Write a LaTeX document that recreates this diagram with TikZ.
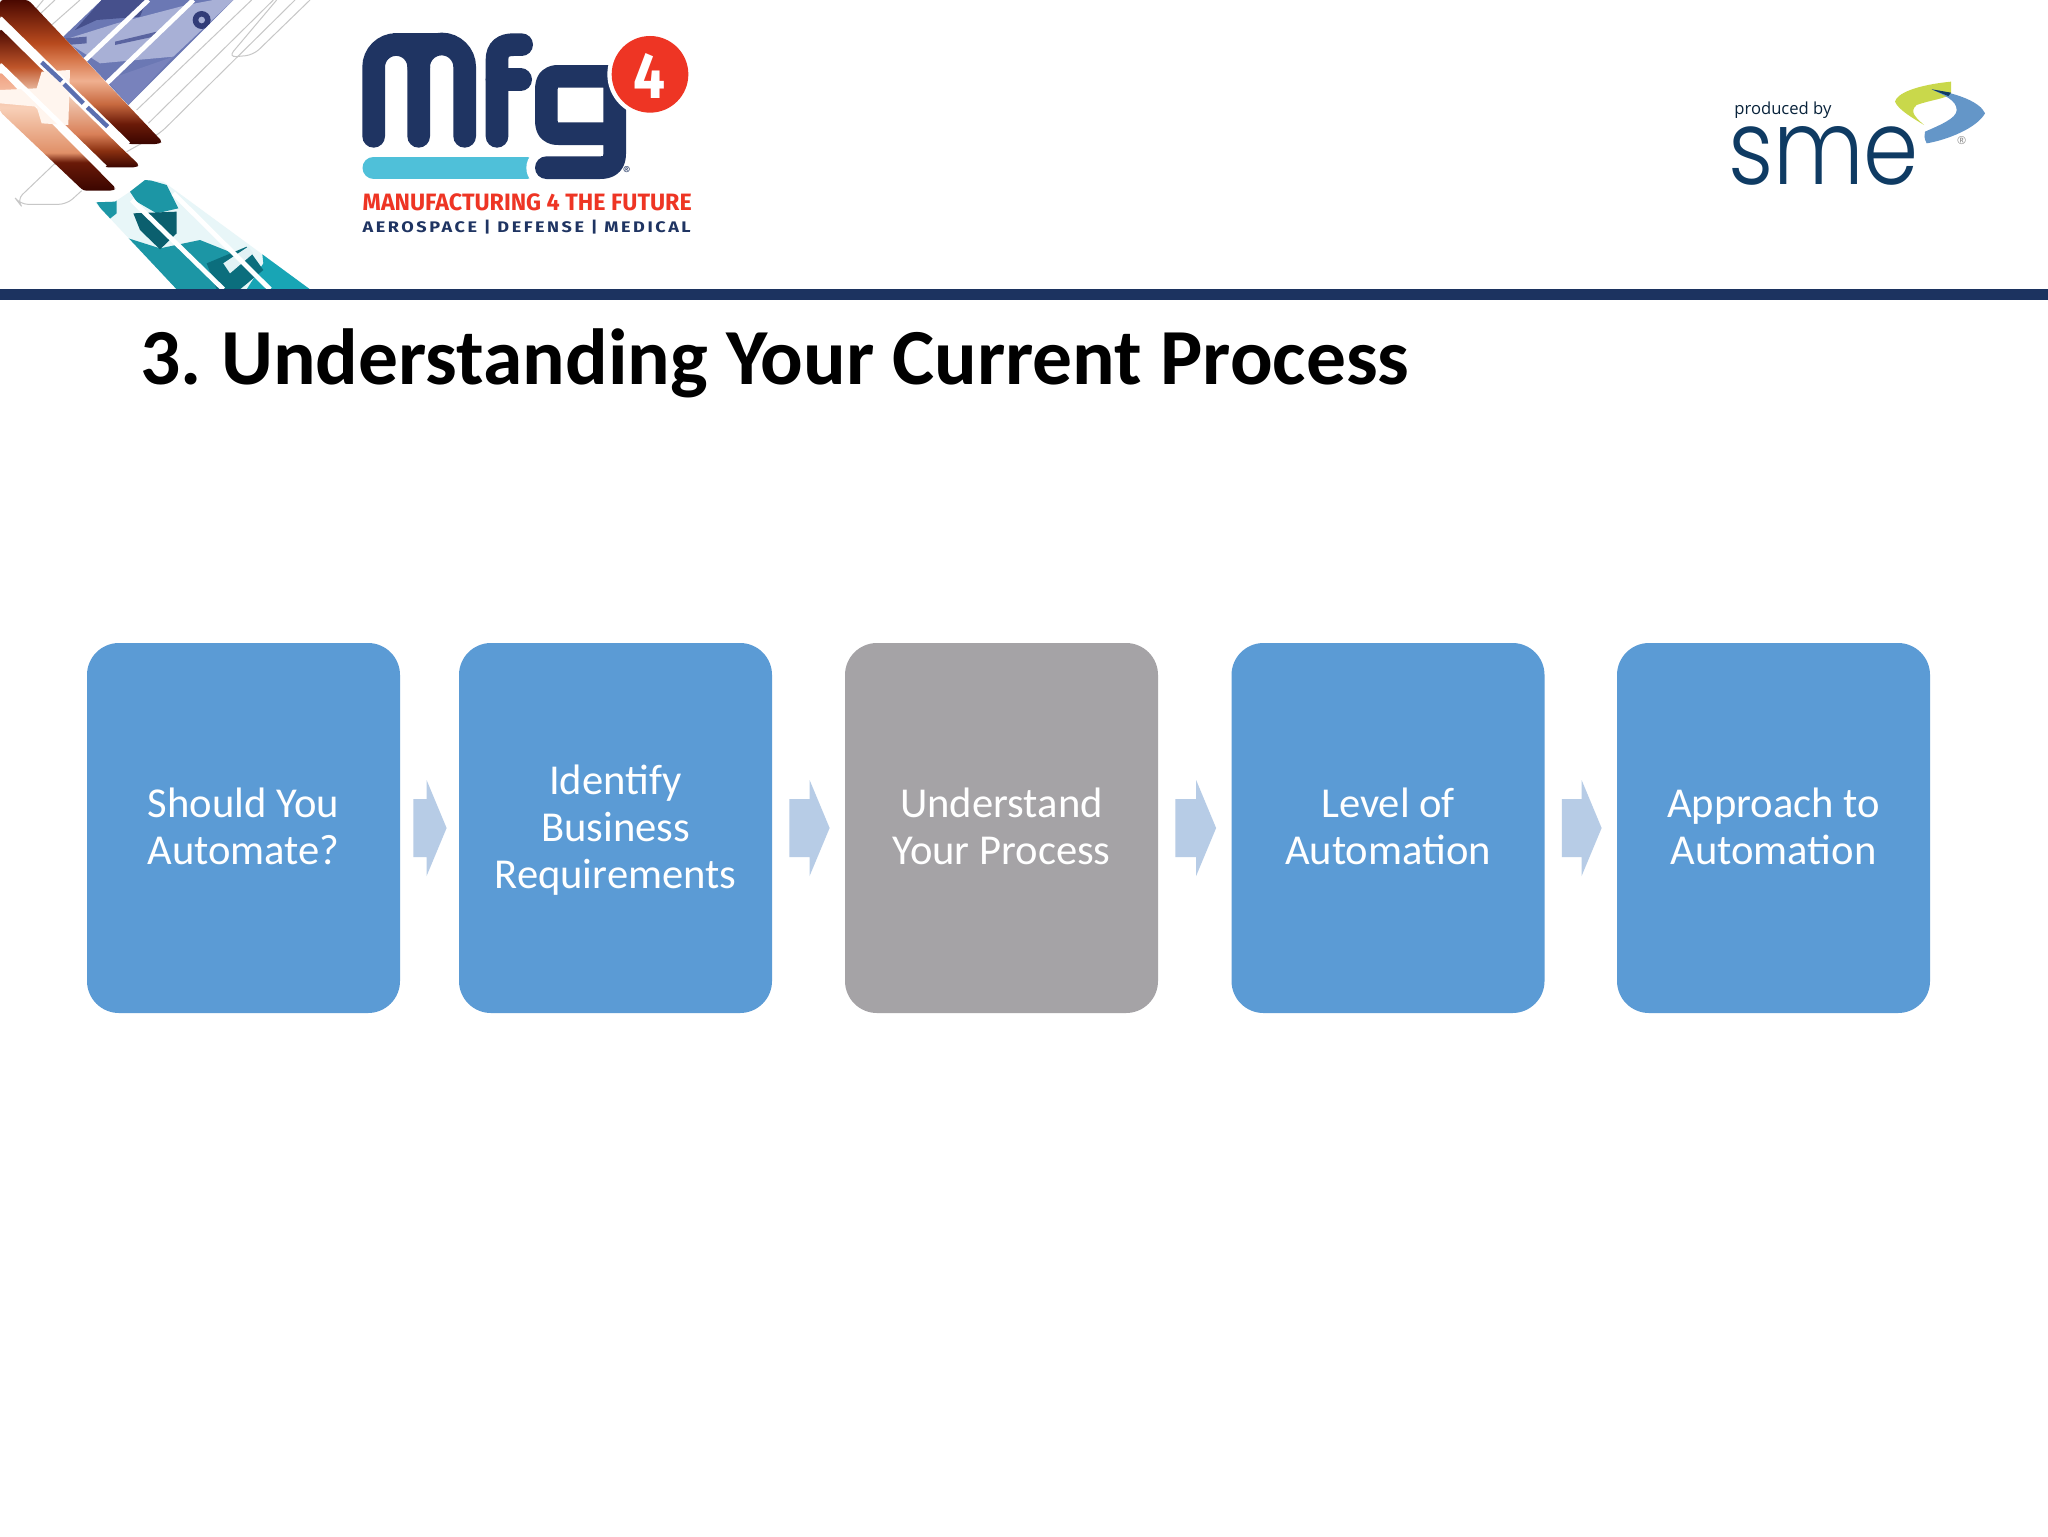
\documentclass[tikz,border=0pt]{standalone}
\usepackage{fontspec}
\usetikzlibrary{calc}
\setmainfont{Carlito}
\newfontfamily\logofont{Fira Sans}
\newfontfamily\logospaced[LetterSpace=14]{Fira Sans}
\newfontfamily\smefont{Poppins Light}
\newfontfamily\prodfont{Open Sans}
\definecolor{navy}{HTML}{1F3462}
\definecolor{rulenavy}{HTML}{1C3360}
\definecolor{logocyan}{HTML}{4FC0D9}
\definecolor{logored}{HTML}{EE3524}
\definecolor{boxblue}{HTML}{5B9BD5}
\definecolor{boxgrey}{HTML}{A5A3A6}
\definecolor{arrowblue}{HTML}{B7CCE6}
\definecolor{smenavy}{HTML}{0F3B63}
\definecolor{smelime}{HTML}{C9D84B}
\definecolor{smeblue}{HTML}{6496C8}
\definecolor{cuA}{RGB}{58,5,0}
\definecolor{cuB}{RGB}{106,26,8}
\definecolor{cuC}{RGB}{200,106,64}
\definecolor{cuD}{RGB}{240,176,144}
\definecolor{cuE}{RGB}{216,122,78}
\definecolor{cuF}{RGB}{184,74,30}
\definecolor{cuG}{RGB}{74,8,0}
\definecolor{cuH}{RGB}{138,48,16}
\definecolor{cuI}{RGB}{217,128,88}
\definecolor{cuJ}{RGB}{243,208,187}
\definecolor{cuK}{RGB}{192,86,42}
\definecolor{cuL}{RGB}{224,144,104}
\definecolor{cuM}{RGB}{248,208,184}
\definecolor{cuN}{RGB}{240,160,128}
\definecolor{planeA}{RGB}{107,120,180}
\definecolor{planeB}{RGB}{168,176,214}
\definecolor{planeC}{RGB}{70,80,140}
\definecolor{planeD}{RGB}{50,60,120}
\definecolor{planeE}{RGB}{90,100,160}
\definecolor{planeF}{RGB}{120,130,188}
\definecolor{starwhite}{RGB}{255,245,238}
\definecolor{dashblue}{RGB}{90,111,176}
\definecolor{tealA}{RGB}{232,246,248}
\definecolor{tealB}{RGB}{28,150,165}
\definecolor{tealC}{RGB}{11,95,110}
\definecolor{tealD}{RGB}{24,165,181}
\definecolor{tealE}{RGB}{11,110,125}
\definecolor{tealF}{RGB}{225,242,245}
\pgfdeclareverticalshading{stripA}{100bp}{color(0bp)=(cuA);
 color(25bp)=(cuA); color(32bp)=(cuB); color(39bp)=(cuC); color(47bp)=(cuD);
 color(54bp)=(cuE); color(60bp)=(cuF); color(75bp)=(cuG); color(100bp)=(cuG)}
\pgfdeclareverticalshading{stripB}{100bp}{color(0bp)=(cuA);
 color(25bp)=(cuA); color(31bp)=(cuH); color(37bp)=(cuI); color(51bp)=(cuJ);
 color(61bp)=(cuK); color(75bp)=(cuG); color(100bp)=(cuG)}
\pgfdeclareverticalshading{stripC}{100bp}{color(0bp)=(cuA);
 color(25bp)=(cuA); color(37bp)=(cuB); color(41bp)=(cuL); color(60bp)=(cuM);
 color(75bp)=(cuN); color(100bp)=(cuN)}
\newcommand{\lstrut}{\rule[-5.25pt]{0pt}{23.5pt}}
\tikzset{
 procbox/.style={rounded corners=16pt,minimum width=156.5pt,minimum height=185pt,inner sep=0pt,
   text=white,align=center,font=\fontsize{21.3}{23.5}\selectfont},
 zoomscope/.style={x=0.16667pt,y=-0.16667pt},
 thin outline/.style={draw=black!22,line width=0.5pt,rounded corners=4pt},
 logostroke/.style={draw=navy,line width=11.33pt,line cap=round},
 whitebar/.style={draw=white,line width=2.4pt},
 dashbar/.style={draw=dashblue,line width=2.2pt},
}
\newcommand{\blockarrow}[4]{%
 \fill[arrowblue] ($(#1.east)+(#3,-29)$) -- ($(#2.west)+(-#4-20,-29)$) -- ($(#2.west)+(-#4-20,-48)$)
   -- ($(#2.west)+(-#4,0)$) -- ($(#2.west)+(-#4-20,48)$) -- ($(#2.west)+(-#4-20,29)$)
   -- ($(#1.east)+(#3,29)$) -- cycle;}
\begin{document}
\begin{tikzpicture}[x=0.5pt,y=-0.5pt]
\useasboundingbox (0,0) rectangle (2048,1536);
\fill[white] (0,0) rectangle (2048,1536);
% header artwork
\begin{scope}[zoomscope]
 \clip (0,0) rectangle (960,868);
 \draw[thin outline] (930,0) -- (760,165) -- (685,172) -- (830,0);
 \draw[thin outline] (755,0) -- (410,330);
 \draw[thin outline] (820,0) -- (445,370);
 \draw[thin outline] (885,0) -- (480,400) -- (380,455);
 \draw[thin outline] (165,490) -- (50,600) -- (60,613) -- (200,613) -- (245,572);
 \draw[thin outline] (130,0) -- (105,30);
 \draw[thin outline] (165,0) -- (120,42);
 \draw[thin outline] (240,0) -- (155,75);
 % aircraft strip
 \fill[planeA] (305,0) -- (700,0) -- (385,315) -- (190,110) -- cycle;
 \begin{scope}
  \clip (305,0) -- (700,0) -- (385,315) -- (190,110) -- cycle;
  \fill[planeB] (190,120) -- (350,70) -- (560,15) -- (640,0) -- (700,0) -- (520,170) -- (300,190) -- cycle;
  \fill[planeC] (305,0) -- (440,0) -- (420,50) -- (290,60) -- (225,90) -- cycle;
  \fill[planeD] (605,60) circle[radius=27];
  \fill[planeB] (605,60) circle[radius=10];
  \fill[planeE] (345,125) -- (470,95) -- (470,108) -- (345,135) -- cycle;
  \fill[planeE] (195,115) -- (260,110) -- (260,130) -- (200,135) -- cycle;
  \fill[planeF] (320,240) -- (520,170) -- (385,315) -- cycle;
 \end{scope}
 \draw[whitebar] (445,0) -- (250,185);
 \draw[whitebar] (580,0) -- (320,250);
 % copper strips
 \shade[shading=stripA,rounded corners=1.5pt] (0,0) -- (85,0) -- (487,425) -- (475,432) -- (385,432) -- (0,55) -- cycle;
 \shade[shading=stripB,rounded corners=1.5pt] (0,85) -- (355,435) -- (418,495) -- (408,502) -- (315,502) -- (0,195) -- cycle;
 \shade[shading=stripC,rounded corners=1.5pt] (0,215) -- (348,565) -- (338,572) -- (250,572) -- (0,335) -- cycle;
 \fill[starwhite] (125,215) -- (210,210) -- (205,375) -- (125,370) -- (110,320) -- (0,310) -- (0,270) -- (110,265) -- cycle;
 \draw[whitebar] (0,55) -- (385,432);
 \draw[whitebar] (0,195) -- (315,502);
 \draw[dashbar] (125,187) -- (185,243);
 \draw[dashbar] (192,252) -- (250,310);
 \draw[dashbar] (262,322) -- (323,380);
 % teal strip
 \begin{scope}
  \clip (285,607) -- (345,605) -- (390,575) -- (435,540) -- (490,545) -- (930,868) -- (530,868) -- cycle;
  \fill[tealA] (280,530) rectangle (940,868);
  \fill[tealB] (285,600) -- (350,600) -- (350,640) -- (325,660) -- cycle;
  \fill[tealB] (390,575) -- (430,535) -- (500,555) -- (535,625) -- (470,640) -- (410,605) -- cycle;
  \fill[tealB] (385,715) -- (480,745) -- (600,720) -- (700,760) -- (680,868) -- (520,868) -- cycle;
  \fill[tealC] (400,640) -- (530,635) -- (530,700) -- (480,748) -- (420,690) -- cycle;
  \fill[tealD] (780,700) -- (940,868) -- (740,868) -- (790,790) -- cycle;
  \fill[tealE] (620,790) -- (740,740) -- (790,810) -- (720,868) -- (650,868) -- cycle;
  \fill[tealF] (670,790) -- (745,740) -- (760,760) -- (690,820) -- cycle;
 \end{scope}
 \draw[whitebar] (395,600) -- (670,868);
 \draw[whitebar] (520,580) -- (810,868);
\end{scope}
\fill[rulenavy] (0,289) rectangle (2048,300);
% mfg logo
\begin{scope}[shift={(350,25)},zoomscope]
 \draw[logocyan,line width=11.17pt,line cap=round] (71,428) -- (530,428);
 \draw[white,line width=20pt,line cap=round] (589,428) -- (600,428);
 \draw[logostroke] (71,334) -- (71,126) arc[start angle=180,end angle=360,radius=67.5] -- (206,334);
 \draw[logostroke] (206,126) arc[start angle=180,end angle=360,radius=69] -- (344,334);
 \fill[navy] (130,25) rectangle (290,80);
 \draw[logostroke] (441,334) -- (441,105) .. controls (441,72) and (460,59) .. (490,59) -- (515,59);
 \draw[logostroke] (441,164) -- (512,164);
 \draw[logostroke,line join=round] (589,428) -- (750,428) .. controls (780,428) and (794,415) .. (794,385) -- (794,154) -- (625,154) .. controls (600,154) and (589,165) .. (589,195) -- (589,285) .. controls (589,315) and (600,326) .. (625,326) -- (794,326);
 \fill[white] (900,148) circle[radius=128];
 \fill[logored] (900,148) circle[radius=115];
 \node[inner sep=0pt,text=white] (four) at (897,152) {\resizebox{16pt}{22.5pt}{\logofont\bfseries 4}};
 \node[inner sep=0pt,text=navy] (regmark) at (830,437) {\fontsize{6}{6}\logofont ®};
 \node[inner sep=0pt,anchor=base west,text=logored] (tagline) at (37,555) {\resizebox{164.5pt}{8.4pt}{\logofont\bfseries MANUFACTURING 4 THE FUTURE}};
 \node[inner sep=0pt,anchor=base west,text=navy] (sectors) at (37,622) {\resizebox{164pt}{6.2pt}{\logospaced\bfseries AEROSPACE | DEFENSE | MEDICAL}};
\end{scope}
% sme logo
\begin{scope}[shift={(1720,80)},zoomscope]
 \fill[smelime] (693,5) .. controls (590,15) and (530,40) .. (525,65) .. controls (535,90) and (580,115) .. (612,135) .. controls (590,115) and (565,95) .. (590,75) .. controls (630,60) and (685,55) .. (693,40) -- cycle;
 \fill[smeblue] (635,28) .. controls (710,40) and (780,65) .. (795,100) .. controls (770,145) and (680,180) .. (620,190) .. controls (612,175) and (612,165) .. (615,155) .. controls (660,135) and (710,115) .. (710,90) .. controls (710,60) and (670,45) .. cycle;
 \fill[smenavy] (635,28) -- (693,38) -- (685,48) -- cycle;
 \node[inner sep=0pt,text=black!45] (smereg) at (725,183) {\fontsize{5.5}{5.5}\prodfont ®};
 \node[inner sep=0pt,anchor=base west,text=smenavy!60!black] (produced) at (42,103) {\resizebox{48.5pt}{!}{\prodfont produced by}};
 \node[inner sep=0pt,anchor=base west,text=smenavy] (sme) at (23,313) {\resizebox{95.5pt}{29pt}{\smefont sme}};
\end{scope}
% title
\node[anchor=base west,inner sep=0pt,font=\fontsize{39.75}{48}\selectfont\bfseries] (title) at (140,384) {3.\hspace{-2.3pt} Understanding Your Current Process};
% process
\node[procbox,fill=boxblue] (p1) at (243.5,828) {\lstrut Should You\\\lstrut Automate?};
\node[procbox,fill=boxblue] (p2) at (615.5,828) {\lstrut Identify\\\lstrut Business\\\lstrut Requirements};
\node[procbox,fill=boxgrey] (p3) at (1001.5,828) {\lstrut Understand\\\lstrut Your Process};
\node[procbox,fill=boxblue] (p4) at (1388,828) {\lstrut Level of\\\lstrut Automation};
\node[procbox,fill=boxblue] (p5) at (1773.5,828) {\lstrut Approach to\\\lstrut Automation};
\blockarrow{p1}{p2}{13}{12}
\blockarrow{p2}{p3}{17}{15}
\blockarrow{p3}{p4}{17}{15}
\blockarrow{p4}{p5}{17}{15}
\end{tikzpicture}
\end{document}
